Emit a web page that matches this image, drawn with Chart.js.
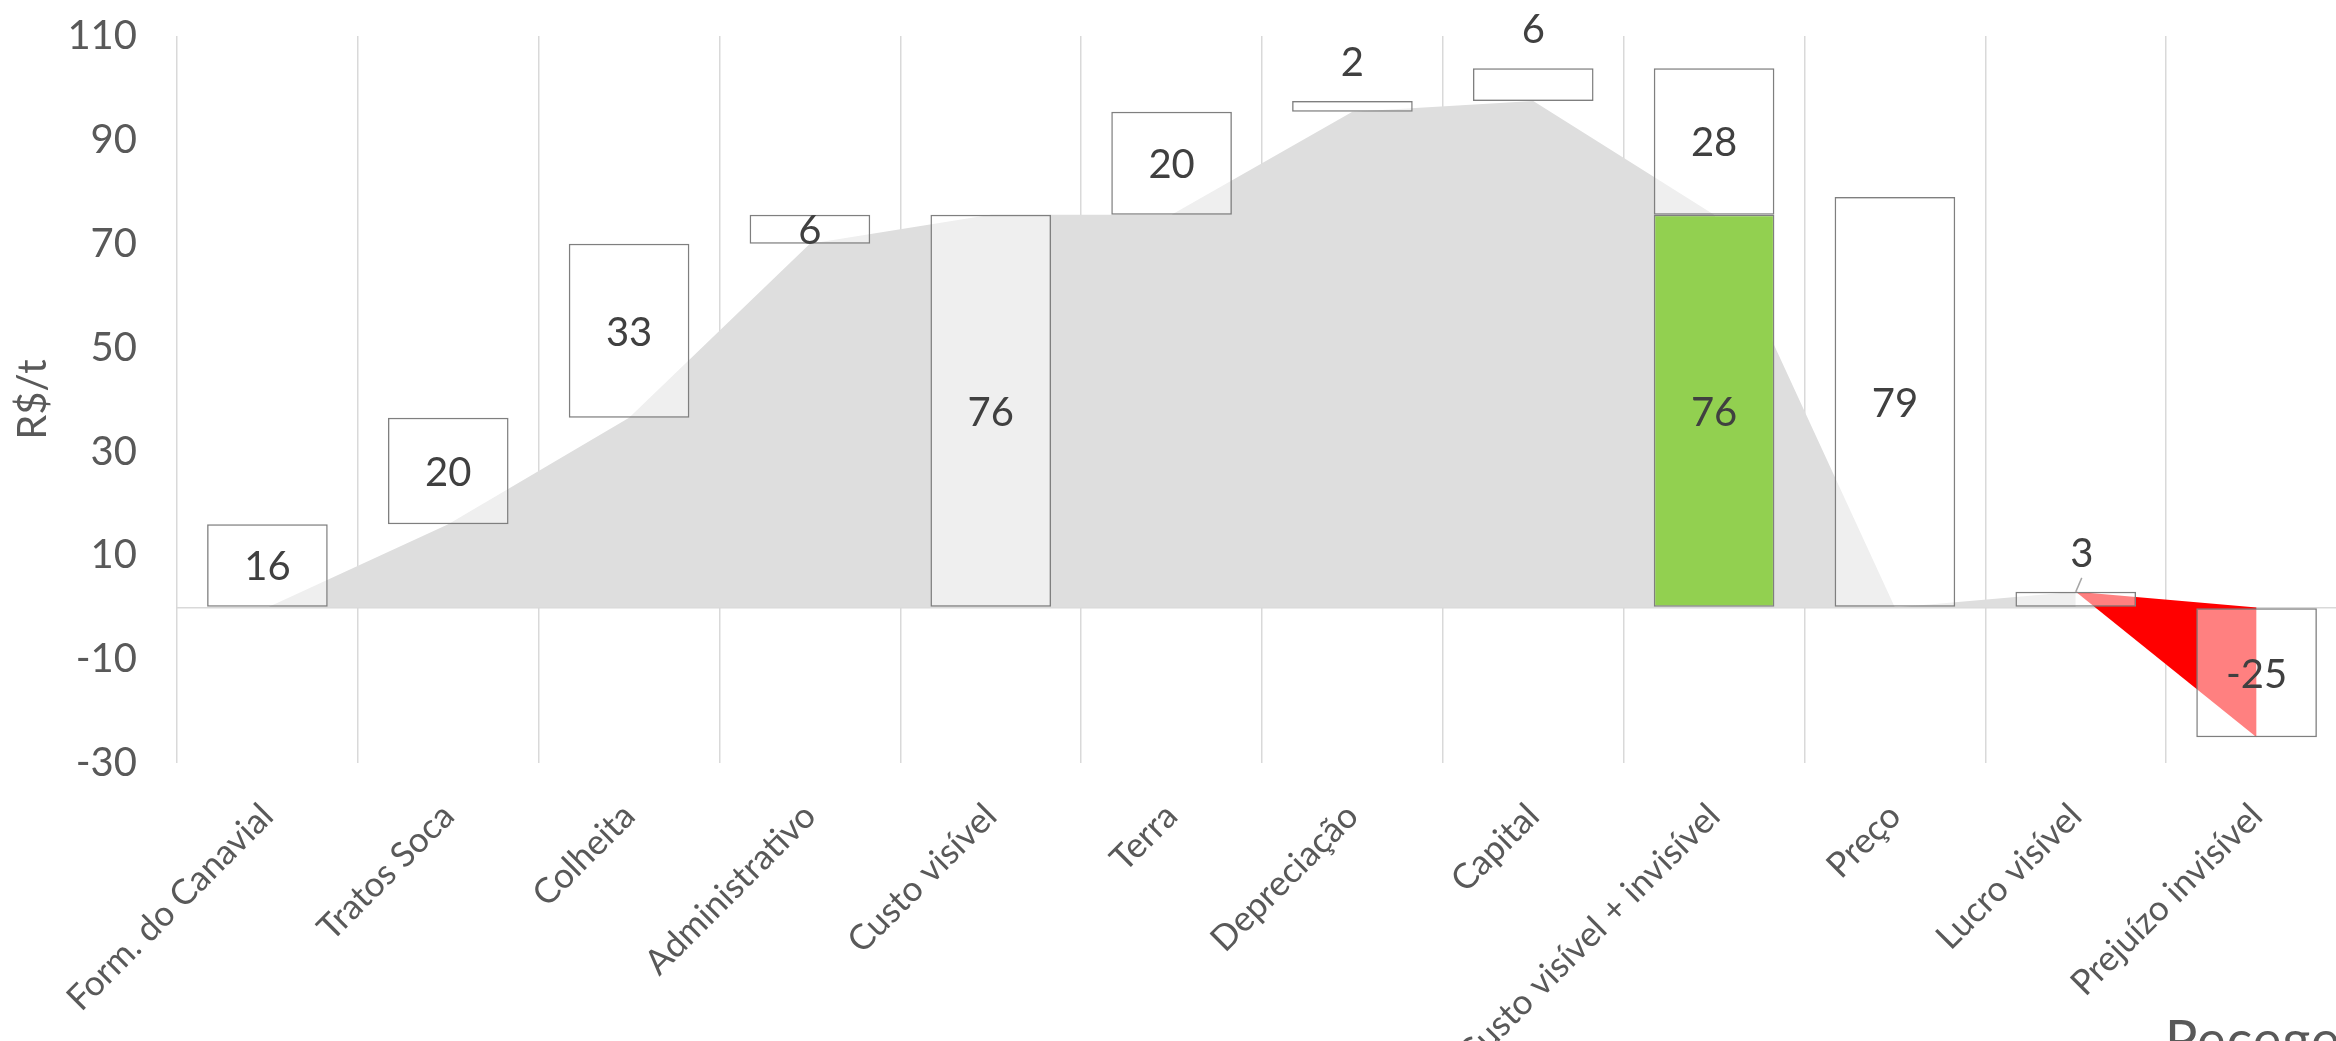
<!DOCTYPE html>
<html>
<head>
<meta charset="utf-8">
<script src="https://cdn.jsdelivr.net/npm/chart.js@4/dist/chart.umd.min.js"></script>
<style>
    html, body { margin: 0; padding: 0; background: #fff; overflow: hidden; }
    #wrap { position: relative; width: 2350px; height: 1041px; }
    #logo { position: absolute; left: 2165px; top: 1006px; font: 54px Lato, sans-serif; color: #595959; letter-spacing: 1px; }
</style>
</head>
<body>
<div id="wrap">
    <canvas id="chartContainer"></canvas>
    <div id="logo">Pecege</div>
</div>
<script>
// categorias e valores (R$/t)
var categories = ['Form. do Canavial', 'Tratos Soca', 'Colheita', 'Administrativo', 'Custo visível',
    'Terra', 'Depreciação', 'Capital', 'Custo visível + invisível', 'Preço', 'Lucro visível', 'Prejuízo invisível'];
var barLow = [0, 16, 36.5, 70, 0, 75.6, 95.4, 97.5, 75.6, 0, 0, -25];
var barHigh = [16, 36.5, 70, 75.6, 75.6, 95.4, 97.5, 103.8, 103.8, 79, 3, 0];
var barText = [16, 20, 33, 6, 76, 20, 2, 6, 28, 79, 3, -25];
var greenLow = [null, null, null, null, null, null, null, null, 0, null, null, null];
var greenHigh = [null, null, null, null, null, null, null, null, 75.6, null, null, null];
var greenText = [null, null, null, null, null, null, null, null, 76, null, null, null];
var areaLine = [0, 16, 36.5, 70, 75.6, 75.6, 95.4, 97.5, 75.6, 0, 3, null];
var lossTop = [null, null, null, null, null, null, null, null, null, null, 3, 0];
var lossBottom = [null, null, null, null, null, null, null, null, null, null, 3, -25];
var yTicks = [-30, -10, 10, 30, 50, 70, 90, 110];
var labelsAbove = [6, 7, 10];

function pairs(lo, hi) {
    var out = [];
    for (var i = 0; i < lo.length; i++) {
        out.push(lo[i] === null ? null : [lo[i], hi[i]]);
    }
    return out;
}

var barLabels = {
    id: 'barLabels',
    afterDatasetsDraw: function (chart) {
        var ctx = chart.ctx;
        ctx.save();
        ctx.font = '40px Lato, sans-serif';
        ctx.fillStyle = '#404040';
        ctx.textAlign = 'center';
        ctx.textBaseline = 'middle';
        [[0, barText], [1, greenText]].forEach(function (d) {
            var meta = chart.getDatasetMeta(d[0]);
            meta.data.forEach(function (bar, i) {
                var t = d[1][i];
                if (t === null || t === undefined) return;
                var top = Math.min(bar.y, bar.base), bottom = Math.max(bar.y, bar.base);
                if (d[0] === 0 && labelsAbove.indexOf(i) >= 0) {
                    ctx.fillText(String(t), bar.x + (i === 10 ? 6 : 0), top - 38);
                    if (i === 10) {
                        ctx.strokeStyle = '#a6a6a6';
                        ctx.lineWidth = 1.5;
                        ctx.beginPath();
                        ctx.moveTo(bar.x + 6, top - 14);
                        ctx.lineTo(bar.x, top);
                        ctx.stroke();
                    }
                } else {
                    ctx.fillText(String(t), bar.x, (top + bottom) / 2 + 2);
                }
            });
        });
        ctx.restore();
    }
};

var chart = new Chart(document.getElementById('chartContainer'), {
    type: 'bar',
    data: {
        labels: categories,
        datasets: [{
            data: pairs(barLow, barHigh),
            backgroundColor: 'rgba(255, 255, 255, 0.5)',
            borderColor: '#7f7f7f',
            borderWidth: 1.5,
            borderSkipped: false,
            grouped: false,
            barPercentage: 0.667,
            categoryPercentage: 1,
            order: 0
        }, {
            data: pairs(greenLow, greenHigh),
            backgroundColor: '#92d050',
            borderColor: '#7f7f7f',
            borderWidth: 1.5,
            borderSkipped: false,
            grouped: false,
            barPercentage: 0.667,
            categoryPercentage: 1,
            order: 1
        }, {
            type: 'line',
            data: areaLine,
            fill: 'origin',
            backgroundColor: '#dedede',
            borderWidth: 0,
            pointRadius: 0,
            tension: 0,
            order: 3
        }, {
            type: 'line',
            data: lossTop,
            fill: false,
            borderWidth: 0,
            pointRadius: 0,
            tension: 0,
            order: 2
        }, {
            type: 'line',
            data: lossBottom,
            fill: 3,
            backgroundColor: '#ff0000',
            borderWidth: 0,
            pointRadius: 0,
            tension: 0,
            order: 2
        }]
    },
    options: {
        responsive: true,
        maintainAspectRatio: false,
        animation: false,
        layout: { padding: { top: 36, right: 3, left: 0, bottom: 0 } },
        plugins: {
            legend: { display: false },
            tooltip: { enabled: false },
            filler: { drawTime: 'beforeDatasetsDraw' }
        },
        scales: {
            x: {
                grid: { color: '#d9d9d9', lineWidth: 1.5, drawTicks: false, offset: true },
                border: { display: false },
                ticks: {
                    font: { family: 'Lato', size: 35 },
                    color: '#595959',
                    minRotation: 45,
                    maxRotation: 45,
                    padding: 32,
                    autoSkip: false
                },
                afterFit: function (scale) {
                    scale.height = 1041 - 763.3 - 36 + 36;
                    scale.paddingLeft = 0;
                    scale.paddingRight = 0;
                }
            },
            y: {
                min: -30,
                max: 110,
                afterBuildTicks: function (scale) {
                    var t = yTicks.map(function (v) { return { value: v }; });
                    t.push({ value: 0 });
                    t.sort(function (a, b) { return a.value - b.value; });
                    scale.ticks = t;
                },
                grid: {
                    drawTicks: false,
                    lineWidth: 1.5,
                    color: function (c) { return c.tick && c.tick.value === 0 ? '#d9d9d9' : 'rgba(0,0,0,0)'; }
                },
                border: { display: false },
                ticks: {
                    font: { family: 'Lato', size: 40 },
                    color: '#595959',
                    padding: 40,
                    callback: function (v) { return v === 0 ? '' : v; }
                },
                title: {
                    display: true,
                    text: 'R$/t',
                    font: { family: 'Lato', size: 40 },
                    color: '#595959',
                    padding: { top: 9, bottom: 0 }
                },
                afterFit: function (scale) {
                    scale.width = 177;
                    scale.paddingTop = 0;
                    scale.paddingBottom = 0;
                }
            }
        }
    },
    plugins: [barLabels]
});
</script>
</body>
</html>
